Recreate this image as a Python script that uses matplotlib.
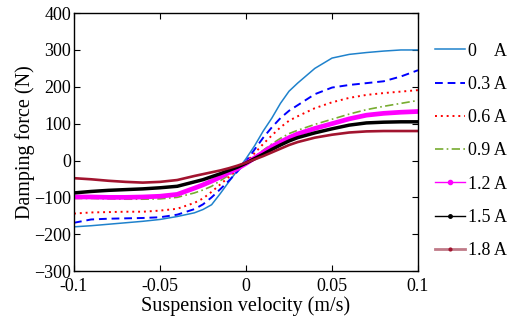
import matplotlib
matplotlib.use("Agg")
import matplotlib.pyplot as plt
from matplotlib.lines import Line2D

plt.rcParams['font.family'] = ['Liberation Serif', 'DejaVu Serif']

velocity = [-0.1, -0.09, -0.08, -0.07, -0.06, -0.05, -0.04, -0.03, -0.025, -0.02, -0.015, -0.01, -0.005,
            0, 0.005, 0.01, 0.015, 0.02, 0.025, 0.03, 0.04, 0.05, 0.06, 0.07, 0.08, 0.09, 0.1]

f_0A = [-180, -177, -173, -169, -165, -160, -152, -142, -133, -120, -90, -58, -27,
        5, 40, 80, 115, 155, 188, 210, 250, 278, 288, 293, 297, 300, 300]
f_03A = [-169, -160, -158, -157, -156, -154, -147, -132, -119, -100, -78, -55, -30,
         -3, 30, 62, 90, 115, 135, 150, 180, 198, 205, 210, 215, 228, 245]
f_06A = [-144, -141, -140, -139, -139, -136, -131, -115, -103, -85, -65, -45, -25,
         -5, 20, 45, 68, 90, 108, 120, 142, 158, 170, 178, 183, 187, 191]
f_09A = [-103, -103, -104, -105, -105, -104, -100, -88, -80, -70, -55, -40, -25,
         -8, 10, 28, 45, 60, 73, 82, 98, 112, 126, 138, 147, 155, 163]
f_12A = [-99, -99, -100, -100, -99, -97, -92, -75, -66, -56, -45, -33, -22,
         -8, 7, 22, 38, 50, 62, 72, 87, 100, 113, 123, 128, 131, 133]
f_15A = [-88, -84, -81, -79, -77, -74, -70, -58, -52, -44, -36, -27, -18,
         -7, 5, 17, 30, 42, 53, 62, 75, 86, 96, 102, 104, 105, 105]
f_18A = [-48, -51, -55, -58, -60, -58, -53, -42, -37, -32, -27, -21, -14,
         -6, 3, 12, 22, 32, 42, 50, 62, 70, 76, 79, 80, 80, 80]

labels = ['0    A', '0.3 A', '0.6 A', '0.9 A', '1.2 A', '1.5 A', '1.8 A']
x_ticks = [-0.1, -0.05, 0, 0.05, 0.1]
x_tick_labels = ['-0.1', '-0.05', '0', '0.05', '0.1']
y_ticks = [-300, -200, -100, 0, 100, 200, 300, 400]

fig = plt.figure(figsize=(5.12, 3.2), dpi=100)
ax = fig.add_axes([0.1445, 0.153, 0.672, 0.806])

c0, c1, c2, c3, c4, c5, c6 = '#1F82CC', '#0000FF', '#FF0000', '#77AC30', '#FF00FF', '#000000', '#A2142F'

ax.plot(velocity, f_0A, color=c0, lw=1.1, ls='-')
ax.plot(velocity, f_03A, color=c1, lw=1.4, ls=(0, (4, 2.5)))
ax.plot(velocity, f_06A, color=c2, lw=1.4, ls=(0, (1, 2)))
ax.plot(velocity, f_09A, color=c3, lw=1.2, ls=(0, (5, 2, 1, 2)))
ax.plot(velocity, f_12A, color=c4, lw=3.4, ls='-')
ax.plot(velocity, f_15A, color=c5, lw=2.5, ls='-')
ax.plot(velocity, f_18A, color=c6, lw=1.9, ls='-')

handles = [
    Line2D([], [], color=c0, lw=1.1),
    Line2D([], [], color=c1, lw=1.4, ls=(0, (4, 2.5))),
    Line2D([], [], color=c2, lw=1.4, ls=(0, (1, 2))),
    Line2D([], [], color=c3, lw=1.2, ls=(0, (5, 2, 1, 2))),
    Line2D([], [], color=c4, lw=1.0, marker='.', markersize=6),
    Line2D([], [], color=c5, lw=1.0, marker='.', markersize=5),
    Line2D([], [], color='#C07A88', lw=2.0, marker='.', markersize=4,
           markerfacecolor=c6, markeredgecolor=c6),
]
fig.legend(handles, labels, loc='upper left', bbox_to_anchor=(0.835, 0.889),
           frameon=False, fontsize=13, handlelength=1.65, handletextpad=0.2,
           labelspacing=0.9, borderaxespad=0)

ax.set_xlim(-0.1, 0.1)
ax.set_ylim(-300, 400)
ax.set_xticks(x_ticks)
ax.set_xticklabels(x_tick_labels)
ax.set_yticks(y_ticks)
ax.tick_params(direction='in', top=True, right=True, labelsize=13, length=4, width=0.8)
ax.tick_params(axis='x', pad=5)
ax.tick_params(axis='y', pad=2)
for s in ax.spines.values():
    s.set_linewidth(1.0)
ax.set_xlabel('Suspension velocity (m/s)', fontsize=14.5, labelpad=1)
ax.set_ylabel('Damping force (N)', fontsize=14.5, labelpad=-0.5)

fig.savefig('out.png', dpi=100)
